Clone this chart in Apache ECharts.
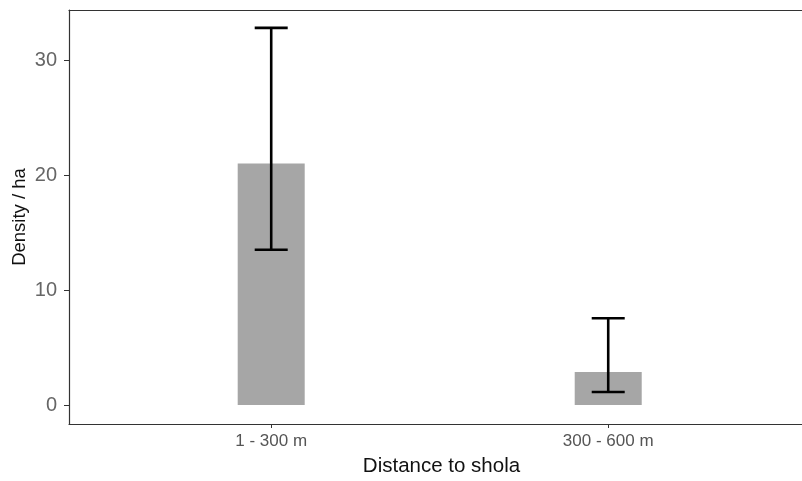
<!DOCTYPE html>
<html><head><meta charset="utf-8">
<script src="https://cdn.jsdelivr.net/npm/echarts@6/dist/echarts.min.js"></script>
<style>html,body{margin:0;padding:0;background:#fff}#c{width:802px;height:481px}</style>
</head><body><div id="c"></div>
<script>
const categories = ['1 - 300 m', '300 - 600 m'];
const density = [21.0, 2.87];
const errLow = [13.5, 1.13];
const errHigh = [32.8, 7.54];
const yTicks = [0, 10, 20, 30];

const xPos = categories.map((c, i) => i + 1);
const barData = xPos.map((x, i) => [x, density[i]]);
const errData = xPos.map((x, i) => [x, errLow[i], errHigh[i]]);
const font = '"Liberation Sans", Arial, sans-serif';
const xMin = 0.4, xMax = 2.575;

const chart = echarts.init(document.getElementById('c'), null, {renderer: 'canvas'});
chart.setOption({
  animation: false,
  backgroundColor: '#fff',
  grid: {left: 69, top: 10, right: 0, bottom: 57, outerBoundsMode: 'none', containLabel: false, show: false},
  xAxis: [{
    type: 'value', min: xMin, max: xMax,
    name: 'Distance to shola', nameLocation: 'middle', nameGap: 32, nameMoveOverlap: false,
    nameTextStyle: {fontFamily: font, fontSize: 20.5, color: '#111', padding: [0, 0, 0, 12]},
    axisLine: {show: true, onZero: false, lineStyle: {color: '#333', width: 1.2}},
    axisTick: {show: true, length: 4, lineStyle: {color: '#333'}, customValues: xPos},
    axisLabel: {fontFamily: font, fontSize: 17, color: '#555', margin: 9, customValues: xPos,
      formatter: v => categories[Math.round(v) - 1] || ''},
    splitLine: {show: false}
  }, {
    type: 'value', position: 'top', min: xMin, max: xMax,
    axisLine: {show: true, onZero: false, lineStyle: {color: '#333', width: 1.2}},
    axisTick: {show: false}, axisLabel: {show: false}, splitLine: {show: false}
  }],
  yAxis: {
    type: 'value', min: -1.65, max: 34.35,
    name: 'Density / ha', nameLocation: 'middle', nameGap: 40, nameMoveOverlap: false,
    nameTextStyle: {fontFamily: font, fontSize: 18.5, color: '#111'},
    axisLine: {show: true, onZero: false, lineStyle: {color: '#333', width: 1.2}},
    axisTick: {show: true, length: 5, lineStyle: {color: '#333'}, customValues: yTicks},
    axisLabel: {fontFamily: font, fontSize: 20, color: '#666', margin: 12, customValues: yTicks},
    splitLine: {show: false}
  },
  series: [
    {type: 'bar', data: barData, barWidth: 67, itemStyle: {color: '#a6a6a6'}, z: 2},
    {type: 'custom', data: errData, z: 3,
      renderItem: (params, api) => {
        const x = api.value(0);
        const lo = api.coord([x, api.value(1)]);
        const hi = api.coord([x, api.value(2)]);
        const hw = 16.5;
        const style = {stroke: '#000', lineWidth: 2.6};
        return {type: 'group', children: [
          {type: 'line', shape: {x1: lo[0], y1: lo[1], x2: hi[0], y2: hi[1]}, style},
          {type: 'line', shape: {x1: hi[0] - hw, y1: hi[1], x2: hi[0] + hw, y2: hi[1]}, style},
          {type: 'line', shape: {x1: lo[0] - hw, y1: lo[1], x2: lo[0] + hw, y2: lo[1]}, style}
        ]};
      }
    }
  ]
});
</script></body></html>
